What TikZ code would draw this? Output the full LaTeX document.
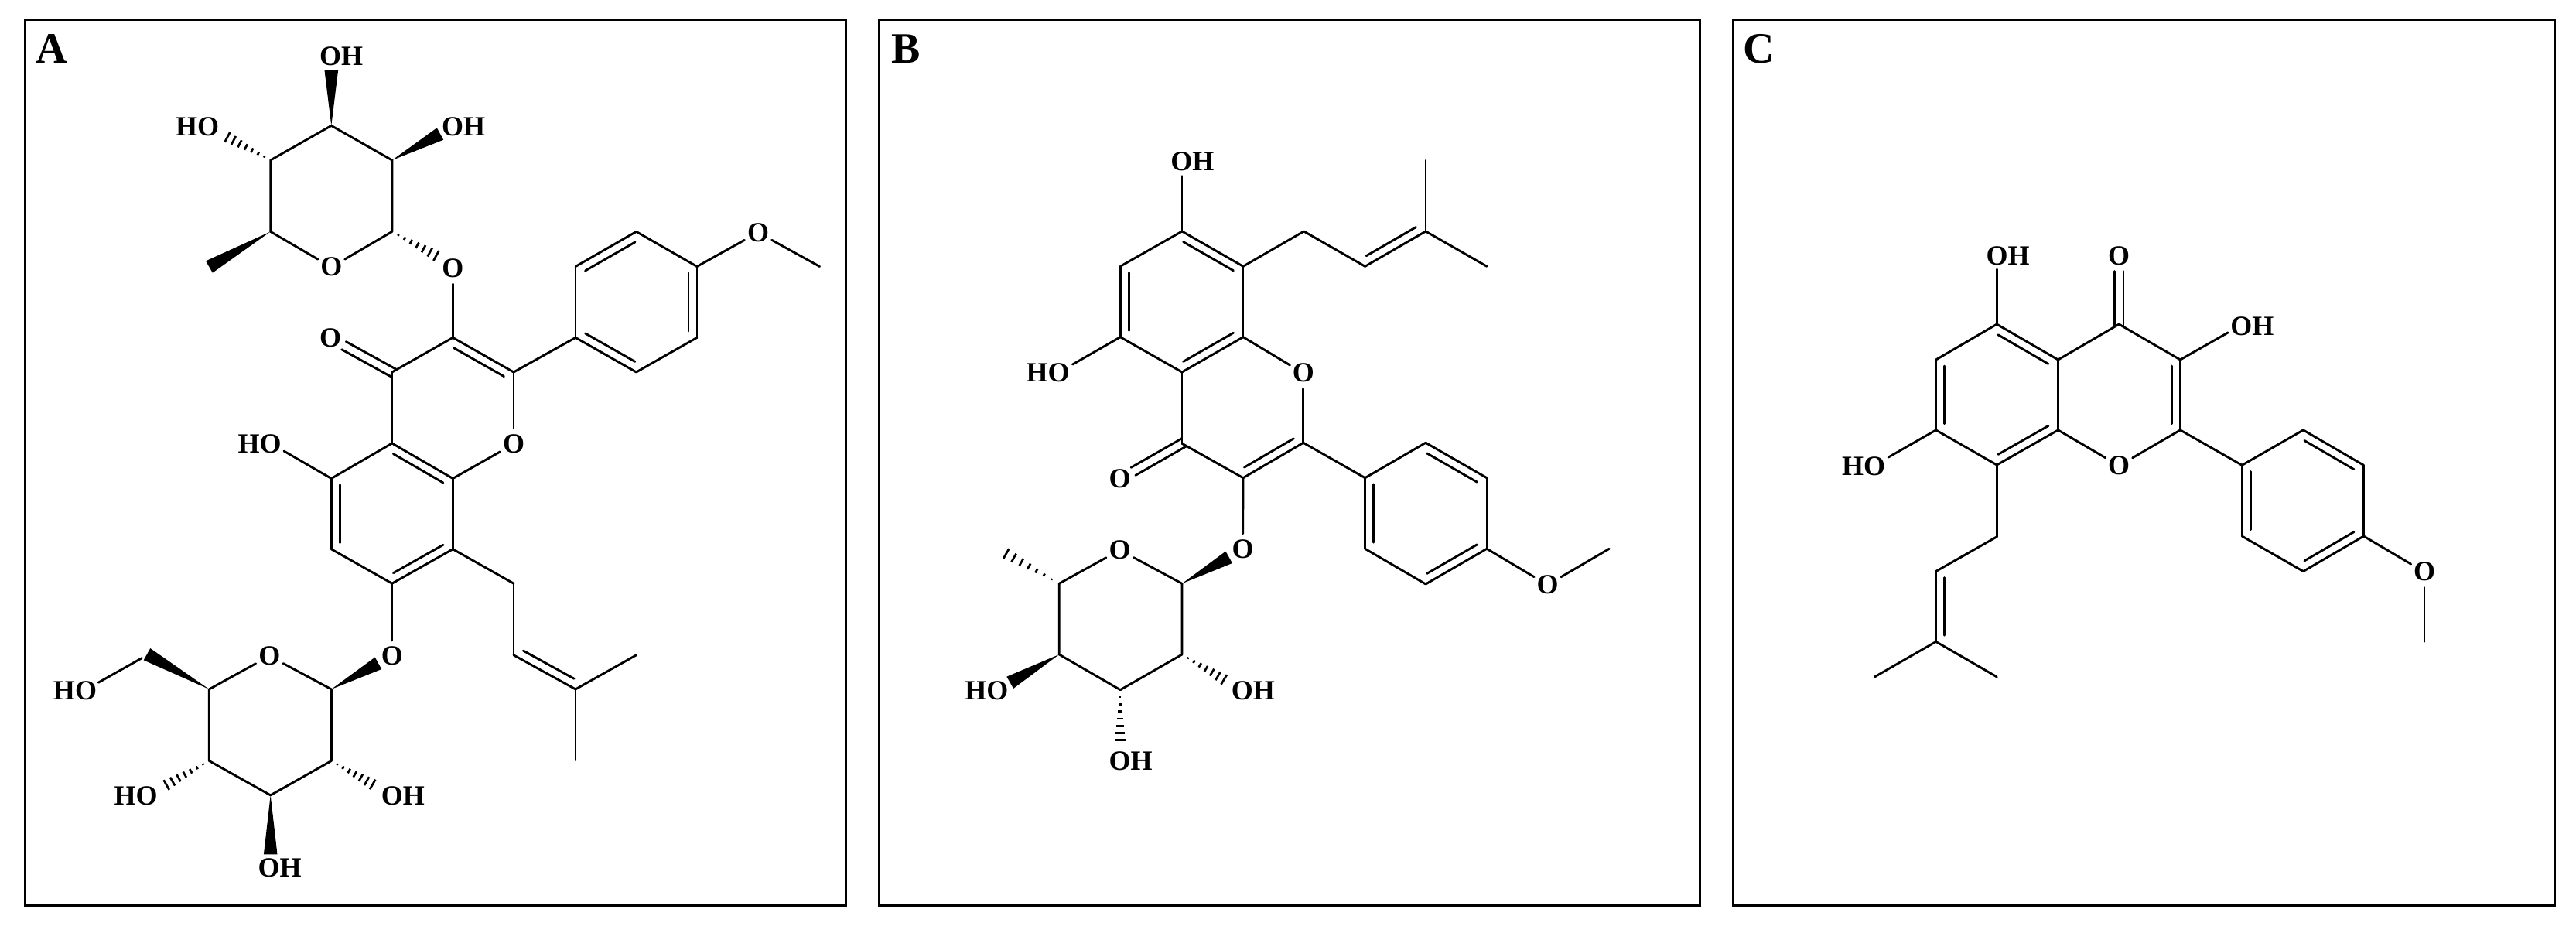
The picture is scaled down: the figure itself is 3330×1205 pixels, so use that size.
\documentclass[tikz,border=0pt]{standalone}
\usepackage{fontspec}
\setmainfont{Liberation Serif}
\usetikzlibrary{calc}
\tikzset{
  x=1pt,y=-1pt,
  bond/.style={line width=2.9pt,line cap=round,line join=round,black},
  toatom/.style={bond,shorten >=20pt},
  frame/.style={draw=black,line width=3pt,fill=none},
  lab/.style={font=\fontsize{36}{36}\selectfont\bfseries,inner sep=0pt,text height=23pt,text depth=0pt},
  olab/.style={lab,circle,minimum size=40pt},
  panel/.style={font=\fontsize{56}{56}\selectfont\bfseries,inner sep=0pt,text height=37pt,text depth=0pt},
  hashline/.style={line width=2.7pt,black}
}
% double bond: main line plus a shorter inner line on the right of a->b
\newcommand\dbl[2]{\draw[bond] (#1) -- (#2);
  \draw[bond] ($(#1)!0.09!(#2)!11pt!-90:(#2)$) -- ($(#2)!0.09!(#1)!11pt!90:(#1)$);}
% carbonyl: two lines either side of the axis
\newcommand\cdbl[2]{\draw[bond,shorten >=20pt,shorten <=-3pt] ($(#1)!5.8pt!90:(#2)$) -- ($(#2)!5.8pt!-90:(#1)$);
  \draw[bond,shorten >=20pt,shorten <=-3pt] ($(#1)!5.8pt!-90:(#2)$) -- ($(#2)!5.8pt!90:(#1)$);}
\newcommand\wedgebond[2]{\fill[black] (#1) -- ($(#2)!8.8pt!90:(#1)$) -- ($(#2)!8.8pt!-90:(#1)$) -- cycle;}
\newcommand\hashbond[2]{\foreach \hk in {0.125,0.25,0.375,0.5,0.625,0.75,0.875,1}{%
  \pgfmathsetmacro\hw{\hk*8.3}%
  \draw[hashline] ($(#1)!\hk!(#2)!\hw pt!90:(#2)$) -- ($(#1)!\hk!(#2)!\hw pt!-90:(#2)$);}}
\newcommand\chain[1]{\draw[bond] #1;}
\begin{document}
\begin{tikzpicture}
\useasboundingbox (0,0) rectangle (3330,1205);
\fill[white] (0,0) rectangle (3330,1205);
% frames and letters
\draw[frame] (32.3,25.5) rectangle (1093.8,1170.5);
\draw[frame] (1136.5,25.5) rectangle (2197.3,1170.5);
\draw[frame] (2240.5,25.5) rectangle (3302,1170.5);
\node[panel] (letA) at (67,62.5) {A};
\node[panel] (letB) at (1171,62.5) {B};
\node[panel] (letC) at (2274,62.5) {C};

%%%%%%%%%%%%%%%%%%%% PANEL A
% upper sugar
\coordinate (aS1) at (428.3,162.4);
\coordinate (aS2) at (349.7,207);
\coordinate (aS3) at (506.8,207);
\coordinate (aS4) at (349.7,299.4);
\coordinate (aS5) at (506.8,299.4);
\node[olab] (aSO) at (428.3,345.3) {O};
\node[olab] (aLO) at (585.4,347) {O};
\node[lab] (aOHt) at (441,72.8) {OH};
\node[lab] (aHOl) at (255,163.5) {HO};
\node[lab] (aOHr) at (599,163.5) {OH};
\coordinate (aW1) at (428.3,91);
\coordinate (aW2) at (569,173);
\coordinate (aW3) at (270.4,345);
\coordinate (aH1) at (286,173);
\coordinate (aH2) at (572,335);
\chain{(aS4) -- (aS2) -- (aS1) -- (aS3) -- (aS5)}
\draw[bond] (aS4) -- (aSO);
\draw[bond] (aS5) -- (aSO);
\wedgebond{aS1}{aW1}
\wedgebond{aS3}{aW2}
\wedgebond{aS4}{aW3}
\hashbond{aS2}{aH1}
\hashbond{aS5}{aH2}
% flavonol core
\coordinate (aC3) at (585.4,436.4);
\coordinate (aC2) at (664,481);
\coordinate (aC4) at (506.8,481);
\coordinate (aC4a) at (506.8,573);
\coordinate (aC8a) at (585.4,618.5);
\coordinate (aC5) at (428.3,618.5);
\coordinate (aC6) at (428.3,709.8);
\coordinate (aC7) at (506.8,754.2);
\coordinate (aC8) at (585.4,709.8);
\node[olab] (aO1) at (664,574) {O};
\node[olab] (aO4) at (427,437) {O};
\node[lab] (aHO5) at (335.7,574) {HO};
\coordinate (aO5) at (349.7,573);
\draw[bond] (aC3) -- (aLO);
\draw[bond] (aC3) -- (aC4);
\dbl{aC3}{aC2}
\draw[bond] (aC2) -- (aO1);
\draw[bond] (aC8a) -- (aO1);
\draw[bond] (aC4) -- (aC4a);
\cdbl{aC4}{aO4}
\dbl{aC4a}{aC8a}
\draw[bond] (aC8a) -- (aC8);
\dbl{aC8}{aC7}
\draw[bond] (aC7) -- (aC6);
\dbl{aC6}{aC5}
\draw[bond] (aC5) -- (aC4a);
\draw[toatom] (aC5) -- (aO5);
% phenyl
\coordinate (aP1) at (744,436.4);
\coordinate (aP2) at (744,344.5);
\coordinate (aP3) at (822.5,299.4);
\coordinate (aP4) at (901,344.5);
\coordinate (aP5) at (901,436.4);
\coordinate (aP6) at (822.5,481);
\node[olab] (aOM) at (980,300.5) {O};
\coordinate (aMe) at (1059.6,344.5);
\draw[bond] (aC2) -- (aP1);
\draw[bond] (aP1) -- (aP2);
\dbl{aP2}{aP3}
\draw[bond] (aP3) -- (aP4);
\dbl{aP4}{aP5}
\draw[bond] (aP5) -- (aP6);
\dbl{aP6}{aP1}
\draw[bond] (aP4) -- (aOM);
\draw[bond] (aOM) -- (aMe);
% prenyl
\coordinate (aQ1) at (664,754.2);
\coordinate (aQ2) at (664,846.8);
\coordinate (aQ3) at (744,890.9);
\coordinate (aQ4) at (822.5,846.8);
\coordinate (aQ5) at (744,982.7);
\draw[bond] (aC8) -- (aQ1);
\draw[bond] (aQ1) -- (aQ2);
\dbl{aQ3}{aQ2}
\draw[bond] (aQ3) -- (aQ4);
\draw[bond] (aQ3) -- (aQ5);
% lower sugar
\node[olab] (aTO) at (348.3,848) {O};
\node[olab] (aGO) at (506.8,848) {O};
\coordinate (aT1) at (428.3,890.9);
\coordinate (aT2) at (428.3,983.5);
\coordinate (aT3) at (349.7,1027.9);
\coordinate (aT4) at (270.4,983.5);
\coordinate (aT5) at (270.4,890.9);
\coordinate (aT6) at (190,845.7);
\coordinate (aT7) at (183.3,850.7);
\coordinate (aOT) at (109.8,892);
\node[lab] (aHO6) at (97,892.8) {HO};
\node[lab] (aHOb) at (175.7,1029.4) {HO};
\node[lab] (aOHc) at (520.9,1029.4) {OH};
\node[lab] (aOHd) at (361.6,1122.4) {OH};
\coordinate (aWb) at (349.7,1104.4);
\coordinate (aWc) at (489,857.3);
\coordinate (aHb) at (207.3,1019);
\coordinate (aHc) at (489.3,1018.3);
\draw[bond] (aC7) -- (aGO);
\draw[bond] (aT1) -- (aTO);
\draw[bond] (aT5) -- (aTO);
\chain{(aT1) -- (aT2) -- (aT3) -- (aT4) -- (aT5)}
\wedgebond{aT5}{aT6}
\wedgebond{aT1}{aWc}
\wedgebond{aT3}{aWb}
\hashbond{aT4}{aHb}
\hashbond{aT2}{aHc}
\draw[toatom] (aT7) -- (aOT);

%%%%%%%%%%%%%%%%%%%% PANEL B
\coordinate (bA1) at (1528,299);
\coordinate (bA2) at (1607,344.3);
\coordinate (bA3) at (1607,435.7);
\coordinate (bA4) at (1528,481);
\coordinate (bA5) at (1448.2,435.7);
\coordinate (bA6) at (1448.2,344.3);
\coordinate (bOt) at (1528,207.5);
\coordinate (bOl) at (1369.2,481);
\node[lab] (bOHt) at (1541.4,209.3) {OH};
\node[lab] (bHOl) at (1354.5,482.3) {HO};
\node[olab] (bO1) at (1684.8,482.3) {O};
\coordinate (bC4) at (1528,573.3);
\coordinate (bC2) at (1684.8,572.3);
\coordinate (bC3) at (1607,617.7);
\node[olab] (bO4) at (1447.6,619.3) {O};
\node[olab] (bLO) at (1606.5,710) {O};
\dbl{bA1}{bA2}
\draw[bond] (bA2) -- (bA3);
\dbl{bA3}{bA4}
\draw[bond] (bA4) -- (bA5);
\dbl{bA5}{bA6}
\draw[bond] (bA6) -- (bA1);
\draw[toatom] (bA1) -- (bOt);
\draw[toatom] (bA5) -- (bOl);
\draw[bond] (bA3) -- (bO1);
\draw[bond] (bC2) -- (bO1);
\dbl{bC2}{bC3}
\draw[bond] (bC3) -- (bC4);
\draw[bond] (bC4) -- (bA4);
\cdbl{bC4}{bO4}
\draw[bond] (bC3) -- (bLO);
% phenyl
\coordinate (bP1) at (1764.6,617.7);
\coordinate (bP2) at (1843,572.3);
\coordinate (bP3) at (1922,617.7);
\coordinate (bP4) at (1922,709.3);
\coordinate (bP5) at (1843,755);
\coordinate (bP6) at (1764.6,709.3);
\node[olab] (bOM) at (2000.5,756) {O};
\coordinate (bMe) at (2080.2,709.3);
\draw[bond] (bC2) -- (bP1);
\draw[bond] (bP1) -- (bP2);
\dbl{bP2}{bP3}
\draw[bond] (bP3) -- (bP4);
\dbl{bP4}{bP5}
\draw[bond] (bP5) -- (bP6);
\dbl{bP6}{bP1}
\draw[bond] (bP4) -- (bOM);
\draw[bond] (bOM) -- (bMe);
% prenyl
\coordinate (bQ1) at (1685.5,299);
\coordinate (bQ2) at (1764.6,344.3);
\coordinate (bQ3) at (1843,299);
\coordinate (bQ4) at (1843,207.3);
\coordinate (bQ5) at (1922,344.3);
\draw[bond] (bA2) -- (bQ1);
\draw[bond] (bQ1) -- (bQ2);
\dbl{bQ3}{bQ2}
\draw[bond] (bQ3) -- (bQ4);
\draw[bond] (bQ3) -- (bQ5);
% sugar
\node[olab] (bSO) at (1447.6,711) {O};
\coordinate (bS1) at (1528,754.3);
\coordinate (bS2) at (1528,846);
\coordinate (bS3) at (1448.2,891.7);
\coordinate (bS4) at (1369.2,846);
\coordinate (bS5) at (1369.2,754.3);
\coordinate (bSm) at (1291,710);
\coordinate (bWa) at (1588.7,720.3);
\coordinate (bWb) at (1305.7,882.3);
\coordinate (bHa) at (1590,883);
\coordinate (bHb) at (1448.2,966);
\node[lab] (bHOa) at (1275.4,892.7) {HO};
\node[lab] (bOHa) at (1619.8,892.7) {OH};
\node[lab] (bOHb) at (1461.6,984) {OH};
\draw[bond] (bS1) -- (bSO);
\draw[bond] (bS5) -- (bSO);
\chain{(bS1) -- (bS2) -- (bS3) -- (bS4) -- (bS5)}
\wedgebond{bS1}{bWa}
\wedgebond{bS4}{bWb}
\hashbond{bS5}{bSm}
\hashbond{bS2}{bHa}
\hashbond{bS3}{bHb}

%%%%%%%%%%%%%%%%%%%% PANEL C
\coordinate (cC5) at (2581.3,419.1);
\coordinate (cC4a) at (2660.5,465);
\coordinate (cC8a) at (2660.5,555.9);
\coordinate (cC8) at (2581.3,601);
\coordinate (cC7) at (2502.6,555.9);
\coordinate (cC6) at (2502.6,465);
\coordinate (cC4) at (2739.2,419.1);
\coordinate (cC3) at (2818.4,465);
\coordinate (cC2) at (2818.4,555.9);
\node[olab] (cO1) at (2739.2,602) {O};
\node[olab] (cO4) at (2739.2,330.6) {O};
\node[lab] (cOH5) at (2595.6,330.6) {OH};
\node[lab] (cOH3) at (2911.4,421.5) {OH};
\node[lab] (cHO7) at (2409,602.9) {HO};
\coordinate (cO5) at (2581.3,328);
\coordinate (cO3) at (2897.5,420);
\coordinate (cO7) at (2423.7,601);
\dbl{cC5}{cC4a}
\draw[bond] (cC4a) -- (cC8a);
\dbl{cC8a}{cC8}
\draw[bond] (cC8) -- (cC7);
\dbl{cC7}{cC6}
\draw[bond] (cC6) -- (cC5);
\draw[bond] (cC4a) -- (cC4);
\draw[bond] (cC4) -- (cC3);
\dbl{cC3}{cC2}
\draw[bond] (cC2) -- (cO1);
\draw[bond] (cC8a) -- (cO1);
\cdbl{cC4}{cO4}
\draw[toatom] (cC5) -- (cO5);
\draw[toatom] (cC3) -- (cO3);
\draw[toatom] (cC7) -- (cO7);
% phenyl
\coordinate (cP1) at (2898.2,601.3);
\coordinate (cP2) at (2977.4,555.9);
\coordinate (cP3) at (3055.5,601.3);
\coordinate (cP4) at (3055.5,693);
\coordinate (cP5) at (2977.4,738.5);
\coordinate (cP6) at (2898.2,693);
\node[olab] (cOM) at (3134,739.3) {O};
\coordinate (cMe) at (3134,829.4);
\draw[bond] (cC2) -- (cP1);
\draw[bond] (cP1) -- (cP2);
\dbl{cP2}{cP3}
\draw[bond] (cP3) -- (cP4);
\dbl{cP4}{cP5}
\draw[bond] (cP5) -- (cP6);
\dbl{cP6}{cP1}
\draw[bond] (cP4) -- (cOM);
\draw[bond] (cOM) -- (cMe);
% prenyl
\coordinate (cQ1) at (2581.3,693.8);
\coordinate (cQ2) at (2502.6,738.5);
\coordinate (cQ3) at (2502.6,829.4);
\coordinate (cQ4) at (2423.4,874.9);
\coordinate (cQ5) at (2581.3,874.9);
\draw[bond] (cC8) -- (cQ1);
\draw[bond] (cQ1) -- (cQ2);
\dbl{cQ3}{cQ2}
\draw[bond] (cQ3) -- (cQ4);
\draw[bond] (cQ3) -- (cQ5);
\end{tikzpicture}
\end{document}
